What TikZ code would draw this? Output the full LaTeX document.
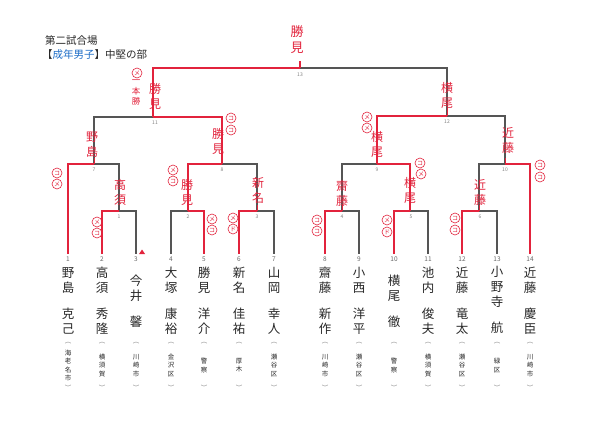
\documentclass[tikz,border=0pt]{standalone}
\usepackage{fontspec}
\setmainfont{Noto Sans CJK JP}
\definecolor{brc}{RGB}{85,85,85}
\definecolor{hand}{RGB}{226,35,60}
\definecolor{namec}{RGB}{40,40,40}
\definecolor{titleblue}{RGB}{30,110,200}
\begin{document}
\begin{tikzpicture}[x=1pt,y=-1pt,
  br/.style={draw=brc, line width=1.1pt},
  win/.style={draw=hand, line width=1.1pt},
  nm/.style={font=\fontsize{12.5}{15}\selectfont, text=namec, align=center, inner sep=0pt},
  af/.style={font=\fontsize{6.5}{8.3}\selectfont, text=namec, align=center, inner sep=0pt},
  par/.style={font=\fontsize{6.5}{7}\selectfont, text=gray, inner sep=0pt},
  num/.style={font=\fontsize{6.5}{7}\selectfont, text=gray!80!black, inner sep=0pt},
  mno/.style={font=\fontsize{5}{5}\selectfont, text=gray, inner sep=0pt},
  hw/.style={font=\fontsize{12}{15}\selectfont, text=hand, align=center, inner sep=0pt},
  mk/.style={circle, draw=hand, line width=0.6pt, minimum size=10pt, inner sep=0pt, font=\fontsize{6}{6}\selectfont, text=hand},
  ttl/.style={font=\fontsize{10.5}{12}\selectfont, text=namec, anchor=west, inner sep=0pt},
]
\path[use as bounding box, fill=white] (0,0) rectangle (600,425);

% title
\node[ttl] (t1) at (45,41) {第二試合場};
\node[ttl] (t2) at (42,55) {【\textcolor{titleblue}{成年男子}】中堅の部};

% player line ends and numbers
\foreach \i/\x in {1/68,2/102,3/136,4/171,5/204,6/239,7/274,8/325,9/359,10/394,11/428,12/462,13/497,14/530}{
  \coordinate (p\i) at (\x,254);
  \node[num] (n\i) at (\x,259) {\i};
  \node[par] (pa\i) at (\x,343) {︵};
  \node[par] (pb\i) at (\x,388) {︶};
}

% match coordinates
\coordinate (m1l) at (102,211); \coordinate (m1r) at (136,211); \coordinate (m1c) at (119,211);
\coordinate (m2l) at (171,211); \coordinate (m2r) at (204,211); \coordinate (m2c) at (188,211);
\coordinate (m3l) at (239,211); \coordinate (m3r) at (274,211); \coordinate (m3c) at (257,211);
\coordinate (m4l) at (325,211); \coordinate (m4r) at (359,211); \coordinate (m4c) at (342,211);
\coordinate (m5l) at (394,211); \coordinate (m5r) at (428,211); \coordinate (m5c) at (410,211);
\coordinate (m6l) at (462,211); \coordinate (m6r) at (497,211); \coordinate (m6c) at (479,211);
\coordinate (q1l) at (68,164);  \coordinate (q1r) at (119,164); \coordinate (q1c) at (94,164);
\coordinate (q2l) at (188,164); \coordinate (q2r) at (257,164); \coordinate (q2c) at (222,164);
\coordinate (q3l) at (342,164); \coordinate (q3r) at (410,164); \coordinate (q3c) at (377,164);
\coordinate (q4l) at (479,164); \coordinate (q4r) at (530,164); \coordinate (q4c) at (505,164);
\coordinate (s1l) at (94,117);  \coordinate (s1r) at (222,117); \coordinate (s1c) at (153,117);
\coordinate (s2l) at (377,116); \coordinate (s2r) at (505,116); \coordinate (s2c) at (447,116);
\coordinate (fl) at (153,68);   \coordinate (fr) at (447,68);   \coordinate (fc) at (300,68);
\coordinate (ftop) at (300,61);

% bracket lines
\draw[br] (p2) -- (m1l) -- (m1r) -- (p3);
\draw[br] (p4) -- (m2l) -- (m2r) -- (p5);
\draw[br] (p6) -- (m3l) -- (m3r) -- (p7);
\draw[br] (p8) -- (m4l) -- (m4r) -- (p9);
\draw[br] (p10) -- (m5l) -- (m5r) -- (p11);
\draw[br] (p12) -- (m6l) -- (m6r) -- (p13);
\draw[br] (p1) -- (q1l) -- (q1r) -- (m1c);
\draw[br] (m2c) -- (q2l) -- (q2r) -- (m3c);
\draw[br] (m4c) -- (q3l) -- (q3r) -- (m5c);
\draw[br] (m6c) -- (q4l) -- (q4r) -- (p14);
\draw[br] (q1c) -- (s1l) -- (s1r) -- (q2c);
\draw[br] (q3c) -- (s2l) -- (s2r) -- (q4c);
\draw[br] (s1c) -- (fl) -- (fr) -- (s2c);

% match numbers
\node[mno] (l1) at (119,217) {1};
\node[mno] (l2) at (188,217) {2};
\node[mno] (l3) at (257,217) {3};
\node[mno] (l4) at (342,217) {4};
\node[mno] (l5) at (411,217) {5};
\node[mno] (l6) at (480,217) {6};
\node[mno] (l7) at (94,170) {7};
\node[mno] (l8) at (222,170) {8};
\node[mno] (l9) at (377,170) {9};
\node[mno] (l10) at (505,170) {10};
\node[mno] (l11) at (155,123) {11};
\node[mno] (l12) at (447,122) {12};
\node[mno] (l13) at (300,75) {13};

% winner paths (red)
\draw[win] (m1c) -- (m1l) -- (p2);
\draw[win] (m2c) -- (m2r) -- (p5);
\draw[win] (m3c) -- (m3l) -- (p6);
\draw[win] (m4c) -- (m4l) -- (p8);
\draw[win] (m5c) -- (m5l) -- (p10);
\draw[win] (m6c) -- (m6l) -- (p12);
\draw[win] (q1c) -- (q1l) -- (p1);
\draw[win] (q2c) -- (q2l) -- (m2c);
\draw[win] (q3c) -- (q3r) -- (m5c);
\draw[win] (q4c) -- (q4r) -- (p14);
\draw[win] (s1c) -- (s1r) -- (q2c);
\draw[win] (s2c) -- (s2l) -- (q3c);
\draw[win] (fc) -- (fl) -- (s1c);
\draw[win] (ftop) -- (fc);
\foreach \c in {q1c,q3c,q4c,m3c,m4c,m5c,m6c}{ \draw[hand, line width=0.8pt] (\c) -- ++(0,-6); }
\draw[hand, line width=0.8pt] (s2c) -- ++(0,-8);
\fill[hand] (139,254) -- (142,249.5) -- (145,254) -- cycle;

% names
\node[nm] (a1) at (68,280.5) {野\\島};   \node[nm] (b1) at (68,321) {克\\己};   \node[af] (c1) at (68,365.5) {海\\老\\名\\市};
\node[nm] (a2) at (102,280.5) {高\\須};  \node[nm] (b2) at (102,321) {秀\\隆};  \node[af] (c2) at (102,365.5) {横\\須\\賀};
\node[nm] (a3) at (136,288) {今\\井};    \node[nm] (b3) at (136,322) {馨};      \node[af] (c3) at (136,365.5) {川\\崎\\市};
\node[nm] (a4) at (171,280.5) {大\\塚};  \node[nm] (b4) at (171,321) {康\\裕};  \node[af] (c4) at (171,365.5) {金\\沢\\区};
\node[nm] (a5) at (204,280.5) {勝\\見};  \node[nm] (b5) at (204,321) {洋\\介};  \node[af] (c5) at (204,365.5) {警\\察};
\node[nm] (a6) at (239,280.5) {新\\名};  \node[nm] (b6) at (239,321) {佳\\祐};  \node[af] (c6) at (239,365.5) {厚\\木};
\node[nm] (a7) at (274,280.5) {山\\岡};  \node[nm] (b7) at (274,321) {幸\\人};  \node[af] (c7) at (274,365.5) {瀬\\谷\\区};
\node[nm] (a8) at (325,280.5) {齋\\藤};  \node[nm] (b8) at (325,321) {新\\作};  \node[af] (c8) at (325,365.5) {川\\崎\\市};
\node[nm] (a9) at (359,280.5) {小\\西};  \node[nm] (b9) at (359,321) {洋\\平};  \node[af] (c9) at (359,365.5) {瀬\\谷\\区};
\node[nm] (a10) at (394,288) {横\\尾};   \node[nm] (b10) at (394,322) {徹};     \node[af] (c10) at (394,365.5) {警\\察};
\node[nm] (a11) at (428,280.5) {池\\内}; \node[nm] (b11) at (428,321) {俊\\夫}; \node[af] (c11) at (428,365.5) {横\\須\\賀};
\node[nm] (a12) at (462,280.5) {近\\藤}; \node[nm] (b12) at (462,321) {竜\\太}; \node[af] (c12) at (462,365.5) {瀬\\谷\\区};
\node[nm] (a13) at (497,287) {小\\野\\寺};\node[nm] (b13) at (497,328) {航};    \node[af] (c13) at (497,365.5) {緑\\区};
\node[nm] (a14) at (530,280.5) {近\\藤}; \node[nm] (b14) at (530,321) {慶\\臣}; \node[af] (c14) at (530,365.5) {川\\崎\\市};

% handwritten winners
\node[hw, font=\fontsize{13}{16}\selectfont] (wf) at (297,40) {勝\\見};
\node[hw] (ws1) at (155,96.5) {勝\\見};
\node[hw, font=\fontsize{8.5}{10.5}\selectfont] (ipp) at (136,93) {一\\本\\勝};
\node[hw] (ws2) at (447,95.5) {横\\尾};
\node[hw] (wq1) at (92,144.5) {野\\島};
\node[hw] (wq2) at (218,141.5) {勝\\見};
\node[hw] (wq3) at (377,144.5) {横\\尾};
\node[hw] (wq4) at (508,140.5) {近\\藤};
\node[hw] (wm1) at (120,192.5) {高\\須};
\node[hw] (wm2) at (187,192.5) {勝\\見};
\node[hw] (wm3) at (258,190.5) {新\\名};
\node[hw] (wm4) at (342,193.5) {齋\\藤};
\node[hw] (wm5) at (410,190.5) {横\\尾};
\node[hw] (wm6) at (480,192.5) {近\\藤};

% scoring marks
\node[mk] (k1) at (137,73) {メ};
\node[mk] (k2) at (367,117) {メ};
\node[mk] (k3) at (367,128) {メ};
\node[mk] (k4) at (231,118) {コ};
\node[mk] (k5) at (231,130) {コ};
\node[mk] (k6) at (57,173) {コ};
\node[mk] (k7) at (57,184) {メ};
\node[mk] (k8) at (173,170) {メ};
\node[mk] (k9) at (173,181) {コ};
\node[mk] (k10) at (420,163) {コ};
\node[mk] (k11) at (421,174) {メ};
\node[mk] (k12) at (540,165) {コ};
\node[mk] (k13) at (540,177) {コ};
\node[mk] (k14) at (97,222) {メ};
\node[mk] (k15) at (97,233) {コ};
\node[mk] (k16) at (212,219) {メ};
\node[mk] (k17) at (212,230) {コ};
\node[mk] (k18) at (233,218) {メ};
\node[mk] (k19) at (233,229) {ド};
\node[mk] (k20) at (317,220) {コ};
\node[mk] (k21) at (317,231) {コ};
\node[mk] (k22) at (387,220) {メ};
\node[mk] (k23) at (387,232) {ド};
\node[mk] (k24) at (455,218) {コ};
\node[mk] (k25) at (455,230) {コ};
\end{tikzpicture}
\end{document}
